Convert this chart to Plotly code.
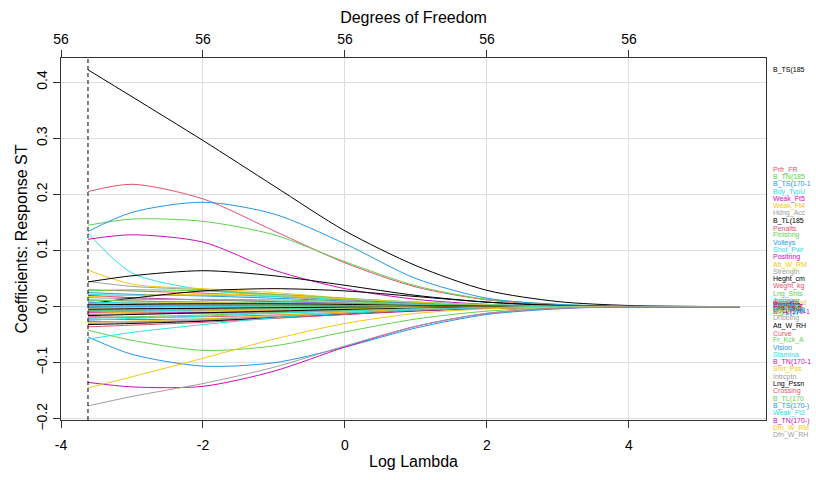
import plotly.graph_objects as go

# Coefficient paths of a penalised regression, sampled along log(lambda)
log_lambda = [-3.62, -3.0, -2.0, -1.0, 0.0, 1.0, 2.0, 3.0, 4.0, 5.56]
lambda_min = -3.62
df_ticks = [-4, -2, 0, 2, 4]
df_labels = ["56", "56", "56", "56", "56"]

var_names = [
    "B_TS(185", "Prfr_FR", "B_TN(185", "B_TS(170-1", "Bdy_TypU", "Weak_Ft5", "Weak_Ft4",
    "Hdng_Acc", "B_TL(185", "Penalts", "Finishng", "Volleys", "Shot_Pwr", "Positnng",
    "Att_W_RM", "Strength", "Heght_cm", "Weght_kg", "Lng_Shts", "Jumping",
    "Bll_Cntr", "Accelrtn", "Sprnt_Spd", "Agility", "Reactins", "Balance", "Aggressn",
    "Composr", "Marking", "Stndng_T", "Sldng_Tc", "Skll_Mv2", "Skll_Mv3", "Skll_Mv4",
    "Weak_Ft3", "Bdy_TypN", "Bdy_TypS", "B_TL(170-1", "Age", "Dribbing", "Att_W_RH",
    "Curve", "Fr_Kck_A", "Vision", "Stamina", "B_TN(170-1", "Shrt_Pss", "Intrcptn",
    "Lng_Pssn", "Crossing", "B_TL(170", "B_TS(170-)", "Weak_Ft2", "B_TN(170-)",
    "Dfn_W_RM", "Dfn_W_RH",
]

coef_paths = [
    [0.422, 0.374, 0.296, 0.215, 0.135, 0.073, 0.029, 0.009, 0.002, 0.0],
    [0.205, 0.218, 0.192, 0.135, 0.078, 0.035, 0.012, 0.003, 0.0, 0.0],
    [0.145, 0.156, 0.152, 0.128, 0.080, 0.037, 0.013, 0.004, 0.0, 0.0],
    [0.134, 0.168, 0.186, 0.165, 0.112, 0.050, 0.015, 0.004, 0.001, 0.0],
    [0.131, 0.060, 0.030, 0.020, 0.014, 0.008, 0.003, 0.001, 0.0, 0.0],
    [0.120, 0.128, 0.115, 0.065, 0.032, 0.013, 0.004, 0.001, 0.0, 0.0],
    [0.065, 0.040, 0.032, 0.025, 0.015, 0.007, 0.002, 0.0, 0.0, 0.0],
    [0.045, 0.036, 0.030, 0.022, 0.014, 0.007, 0.002, 0.0, 0.0, 0.0],
    [0.044, 0.055, 0.064, 0.055, 0.038, 0.020, 0.008, 0.002, 0.0, 0.0],
    [0.030, 0.028, 0.024, 0.018, 0.012, 0.006, 0.002, 0.001, 0.0, 0.0],
    [0.028, 0.030, 0.028, 0.022, 0.015, 0.008, 0.003, 0.001, 0.0, 0.0],
    [0.025, 0.022, 0.019, 0.015, 0.010, 0.006, 0.003, 0.001, 0.0, 0.0],
    [0.022, 0.020, 0.020, 0.018, 0.013, 0.008, 0.004, 0.001, 0.0, 0.0],
    [0.020, 0.016, 0.012, 0.009, 0.006, 0.003, 0.001, 0.0, 0.0, 0.0],
    [0.018, 0.020, 0.022, 0.020, 0.014, 0.008, 0.003, 0.001, 0.0, 0.0],
    [0.016, 0.014, 0.012, 0.010, 0.007, 0.004, 0.002, 0.0, 0.0, 0.0],
    [0.005, 0.015, 0.028, 0.032, 0.028, 0.018, 0.008, 0.002, 0.0, 0.0],
    [0.012, 0.010, 0.008, 0.006, 0.004, 0.002, 0.001, 0.0, 0.0, 0.0],
    [0.010, 0.012, 0.013, 0.012, 0.009, 0.005, 0.002, 0.001, 0.0, 0.0],
    [0.008, 0.006, 0.005, 0.004, 0.003, 0.002, 0.001, 0.0, 0.0, 0.0],
    [0.007, 0.008, 0.008, 0.007, 0.005, 0.003, 0.001, 0.0, 0.0, 0.0],
    [0.006, 0.005, 0.004, 0.003, 0.002, 0.001, 0.0, 0.0, 0.0, 0.0],
    [0.005, 0.006, 0.007, 0.006, 0.004, 0.002, 0.001, 0.0, 0.0, 0.0],
    [0.004, 0.003, 0.002, 0.002, 0.001, 0.001, 0.0, 0.0, 0.0, 0.0],
    [0.003, 0.004, 0.005, 0.005, 0.004, 0.002, 0.001, 0.0, 0.0, 0.0],
    [0.002, 0.002, 0.001, 0.001, 0.001, 0.0, 0.0, 0.0, 0.0, 0.0],
    [0.001, 0.002, 0.003, 0.003, 0.002, 0.001, 0.0, 0.0, 0.0, 0.0],
    [0.000, 0.000, 0.001, 0.001, 0.001, 0.0, 0.0, 0.0, 0.0, 0.0],
    [-0.001, -0.001, 0.000, 0.000, 0.0, 0.0, 0.0, 0.0, 0.0, 0.0],
    [-0.002, -0.003, -0.003, -0.002, -0.002, -0.001, 0.0, 0.0, 0.0, 0.0],
    [-0.003, -0.002, -0.002, -0.001, -0.001, 0.0, 0.0, 0.0, 0.0, 0.0],
    [-0.004, -0.005, -0.005, -0.004, -0.003, -0.002, -0.001, 0.0, 0.0, 0.0],
    [-0.005, -0.004, -0.003, -0.002, -0.001, -0.001, 0.0, 0.0, 0.0, 0.0],
    [-0.006, -0.007, -0.007, -0.006, -0.004, -0.002, -0.001, 0.0, 0.0, 0.0],
    [-0.007, -0.006, -0.005, -0.004, -0.003, -0.002, -0.001, 0.0, 0.0, 0.0],
    [-0.008, -0.009, -0.010, -0.009, -0.007, -0.004, -0.002, -0.001, 0.0, 0.0],
    [-0.009, -0.008, -0.006, -0.005, -0.003, -0.002, -0.001, 0.0, 0.0, 0.0],
    [-0.010, -0.011, -0.011, -0.010, -0.007, -0.004, -0.002, 0.0, 0.0, 0.0],
    [-0.012, -0.010, -0.008, -0.006, -0.004, -0.002, -0.001, 0.0, 0.0, 0.0],
    [-0.014, -0.013, -0.012, -0.010, -0.007, -0.004, -0.002, -0.001, 0.0, 0.0],
    [-0.016, -0.014, -0.011, -0.008, -0.005, -0.003, -0.001, 0.0, 0.0, 0.0],
    [-0.018, -0.019, -0.018, -0.015, -0.010, -0.006, -0.002, -0.001, 0.0, 0.0],
    [-0.020, -0.018, -0.015, -0.011, -0.007, -0.004, -0.002, 0.0, 0.0, 0.0],
    [-0.022, -0.023, -0.022, -0.018, -0.012, -0.007, -0.003, -0.001, 0.0, 0.0],
    [-0.024, -0.021, -0.017, -0.012, -0.008, -0.004, -0.002, 0.0, 0.0, 0.0],
    [-0.026, -0.027, -0.025, -0.020, -0.014, -0.008, -0.003, -0.001, 0.0, 0.0],
    [-0.028, -0.026, -0.022, -0.016, -0.010, -0.005, -0.002, 0.0, 0.0, 0.0],
    [-0.030, -0.028, -0.024, -0.018, -0.012, -0.006, -0.002, -0.001, 0.0, 0.0],
    [-0.032, -0.030, -0.026, -0.020, -0.013, -0.007, -0.003, -0.001, 0.0, 0.0],
    [-0.036, -0.033, -0.028, -0.021, -0.014, -0.007, -0.003, -0.001, 0.0, 0.0],
    [-0.042, -0.060, -0.078, -0.070, -0.045, -0.022, -0.008, -0.002, 0.0, 0.0],
    [-0.054, -0.085, -0.106, -0.100, -0.072, -0.038, -0.014, -0.004, 0.0, 0.0],
    [-0.058, -0.046, -0.032, -0.020, -0.012, -0.006, -0.002, 0.0, 0.0, 0.0],
    [-0.135, -0.143, -0.142, -0.115, -0.072, -0.035, -0.012, -0.003, 0.0, 0.0],
    [-0.145, -0.125, -0.092, -0.058, -0.030, -0.012, -0.004, -0.001, 0.0, 0.0],
    [-0.177, -0.160, -0.137, -0.108, -0.070, -0.035, -0.012, -0.003, 0.0, 0.0],
]

# R's default palette, recycled over the variables
palette = ["#000000", "#DF536B", "#61D04F", "#2297E6",
           "#28E2E5", "#CD0BBC", "#F5C710", "#9E9E9E"]

FONT = "Liberation Sans, Arial, sans-serif"
NARROW = "Liberation Sans Narrow, Arial Narrow, Liberation Sans, sans-serif"

x_range = [-4.0, 5.93]
y_range = [-0.202, 0.443]

fig = go.Figure()

for i, (name, vals) in enumerate(zip(var_names, coef_paths)):
    fig.add_trace(go.Scatter(
        x=log_lambda, y=vals, mode="lines", name=name,
        line=dict(color=palette[i % 8], width=1, shape="spline", smoothing=0.8),
        showlegend=False, hoverinfo="name+y",
    ))

# invisible trace so the top (degrees of freedom) axis is drawn
fig.add_trace(go.Scatter(x=df_ticks, y=[0] * len(df_ticks), xaxis="x2",
                         mode="markers", marker=dict(opacity=0),
                         showlegend=False, hoverinfo="skip"))

# variable labels in the right margin, spread so they stay readable
step = 0.013
label_y = [coef_paths[0][0]]
label_y += [0.244 - k * step for k in range(19)]
label_y += [0.008 - k * 0.001 for k in range(19)]
label_y += [-0.020]
label_y += [-0.034 - k * step for k in range(16)]


def to_paper(v):
    return (v - y_range[0]) / (y_range[1] - y_range[0])


for i, name in enumerate(var_names):
    fig.add_annotation(
        x=1.007, xref="paper", xanchor="left",
        y=to_paper(label_y[i]), yref="paper", yanchor="middle",
        text=name, showarrow=False,
        font=dict(family=NARROW, size=7, color=palette[i % 8]),
    )

# dashed marker at the selected lambda
fig.add_shape(type="line", x0=lambda_min, x1=lambda_min, xref="x",
              y0=0, y1=1, yref="paper",
              line=dict(color="black", width=1, dash="4px,3px"))

axis_common = dict(
    showgrid=True, gridcolor="#dedede", gridwidth=1,
    showline=True, linecolor="#333333", linewidth=1,
    ticks="outside", ticklen=7, tickcolor="#333333",
    tickfont=dict(family=FONT, size=14, color="black"),
    zeroline=False,
)

fig.update_layout(
    width=816, height=480,
    margin=dict(l=61, r=50, t=58, b=52),
    paper_bgcolor="white", plot_bgcolor="white",
    font=dict(family=FONT, color="black"),
    xaxis=dict(
        range=x_range, tickvals=df_ticks, ticktext=["-4", "-2", "0", "2", "4"],
        mirror=True, ticklabelstandoff=5,
        title=dict(text="Log Lambda", font=dict(size=16), standoff=4),
        **axis_common,
    ),
    xaxis2=dict(
        range=x_range, overlaying="x", side="top", anchor="y",
        tickvals=df_ticks, ticktext=df_labels,
        title=dict(text="Degrees of Freedom", font=dict(size=16), standoff=3),
        **{k: v for k, v in axis_common.items() if k != "showgrid"},
        showgrid=False,
    ),
    yaxis=dict(
        range=y_range, tickvals=[-0.2, -0.1, 0.0, 0.1, 0.2, 0.3, 0.4],
        tickformat=".1f", tickangle=-90, mirror=True,
        title=dict(text="Coefficients: Response ST", font=dict(size=16), standoff=2),
        **axis_common,
    ),
)

fig.write_html("out.html")
